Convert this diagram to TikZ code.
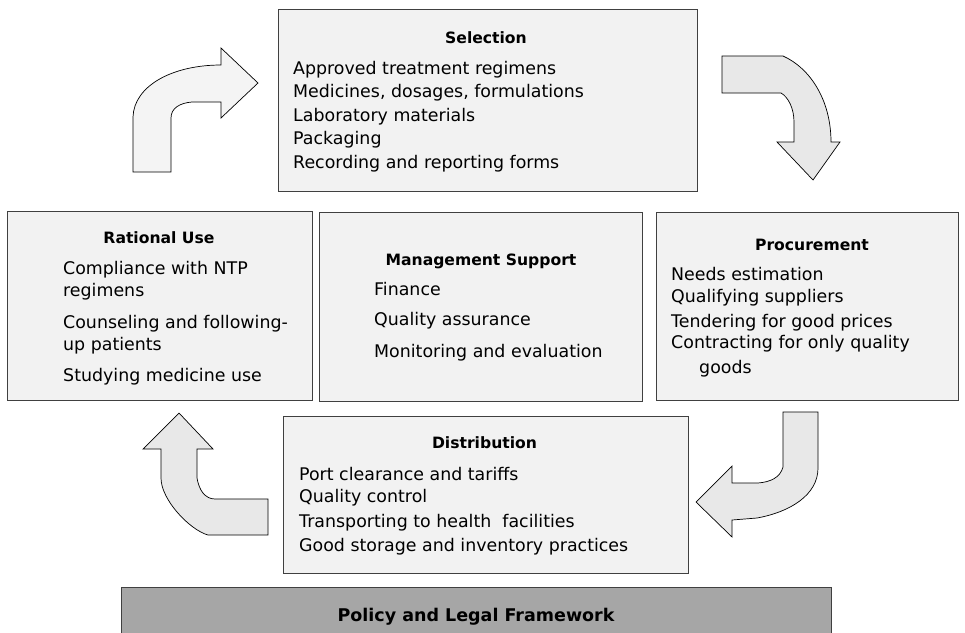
\documentclass[tikz,border=0pt]{standalone}
\usepackage{fontspec}
\setmainfont{DejaVu Sans}
\definecolor{boxfill}{HTML}{F2F2F2}
\definecolor{arrfill}{HTML}{E8E8E8}
\definecolor{arrfillL}{HTML}{F4F4F4}
\definecolor{polfill}{HTML}{A6A6A6}
\definecolor{edge}{HTML}{404040}
\begin{document}
\begin{tikzpicture}[x=1pt,y=-1pt,
  stagebox/.style={draw=edge,fill=boxfill,line width=0.9pt,inner sep=0pt,anchor=north west},
  ttl/.style={font=\fontsize{15.6}{18}\selectfont\bfseries,anchor=base,inner sep=0pt},
  itm/.style={font=\fontsize{17.4}{20}\selectfont,anchor=base west,inner sep=0pt},
  bigarrow/.style={draw=black,line width=0.7pt,line join=miter}]
\useasboundingbox (0,0) rectangle (965,632);

% boxes
\node[stagebox,minimum width=419pt,minimum height=182pt] (sel) at (278,9) {};
\node[stagebox,minimum width=305pt,minimum height=189pt] (rat) at (7,211) {};
\node[stagebox,minimum width=323pt,minimum height=189pt] (man) at (319,212) {};
\node[stagebox,minimum width=302pt,minimum height=188pt] (pro) at (656,212) {};
\node[stagebox,minimum width=405pt,minimum height=157pt] (dis) at (283,416) {};
\node[stagebox,fill=polfill,minimum width=710pt,minimum height=50pt] (pol) at (121,587) {};

% Selection
\node[ttl] (selT) at (486,43) {Selection};
\node[itm] (sel1) at (293,74) {Approved treatment regimens};
\node[itm] (sel2) at (293,97.5) {Medicines, dosages, formulations};
\node[itm] (sel3) at (293,121) {Laboratory materials};
\node[itm] (sel4) at (293,144.5) {Packaging};
\node[itm] (sel5) at (293,168) {Recording and reporting forms};

% Rational use
\node[ttl] (ratT) at (159,243) {Rational Use};
\node[itm] (rat1) at (63,274) {Compliance with NTP};
\node[itm] (rat2) at (63,296) {regimens};
\node[itm] (rat3) at (63,328) {Counseling and following-};
\node[itm] (rat4) at (63,350) {up patients};
\node[itm] (rat5) at (63,381) {Studying medicine use};

% Management support
\node[ttl] (manT) at (481,265) {Management Support};
\node[itm] (man1) at (374,295) {Finance};
\node[itm] (man2) at (374,325) {Quality assurance};
\node[itm] (man3) at (374,357) {Monitoring and evaluation};

% Procurement
\node[ttl] (proT) at (812,250) {Procurement};
\node[itm] (pro1) at (671,280) {Needs estimation};
\node[itm] (pro2) at (671,302) {Qualifying suppliers};
\node[itm] (pro3) at (671,327) {Tendering for good prices};
\node[itm] (pro4) at (671,348) {Contracting for only quality};
\node[itm] (pro5) at (699,373) {goods};

% Distribution
\node[ttl] (disT) at (484.5,448) {Distribution};
\node[itm] (dis1) at (299,480) {Port clearance and tariffs};
\node[itm] (dis2) at (299,502) {Quality control};
\node[itm] (dis3) at (299,527) {Transporting to health\ \ facilities};
\node[itm] (dis4) at (299,551) {Good storage and inventory practices};

% Policy
\node[ttl,font=\fontsize{17.5}{20}\selectfont\bfseries] (polT) at (476,621) {Policy and Legal Framework};

% arrows
\draw[bigarrow,fill=arrfillL] (133,172) -- (133,117)
  .. controls (134,86) and (172,65) .. (221,65) -- (221,48) -- (258,83)
  -- (221,118) -- (221,102) -- (192,102)
  .. controls (180,103) and (171,108) .. (171,118) -- (171,172) -- cycle;

\draw[bigarrow,fill=arrfill] (722,56) -- (783,56)
  .. controls (810,68) and (831,100) .. (831,142) -- (840,142) -- (813,180)
  -- (777,142) -- (794,142) -- (794,122)
  .. controls (794,108) and (788,97) .. (781,93) -- (722,93) -- cycle;

\draw[bigarrow,fill=arrfill] (783,412) -- (818,412) -- (818,468)
  .. controls (818,495) and (790,512) .. (757,518) -- (732,520) -- (732,537)
  -- (696,502) -- (732,466) -- (732,483) -- (758,483)
  .. controls (770,482) and (780,478) .. (783,467) -- cycle;

\draw[bigarrow,fill=arrfill] (268,535) -- (208,535)
  .. controls (190,530) and (161,500) .. (161,478) -- (161,449) -- (143,449)
  -- (179,413) -- (213,449) -- (197,449) -- (197,478)
  .. controls (199,490) and (205,499) .. (215,499) -- (268,499) -- cycle;
\end{tikzpicture}
\end{document}
